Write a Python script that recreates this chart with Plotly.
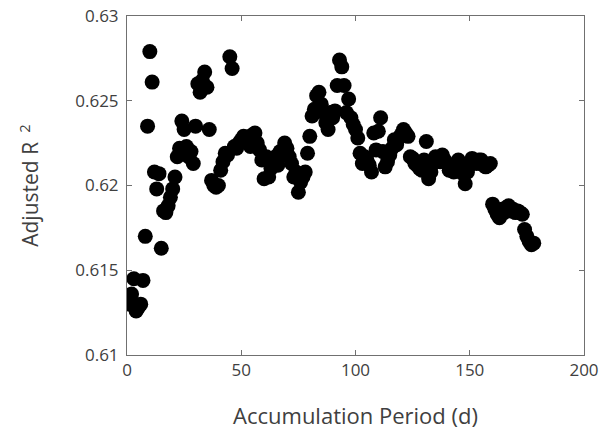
import plotly.graph_objects as go

days = list(range(1, 179))
adj_r2 = [
    0.6130, 0.6136, 0.6145, 0.6126, 0.6128, 0.6130, 0.6144, 0.6170, 0.6235, 0.6279,
    0.6261, 0.6208, 0.6198, 0.6207, 0.6163, 0.6185, 0.6184, 0.6188, 0.6193, 0.6198,
    0.6205, 0.6217, 0.6222, 0.6238, 0.6233, 0.6223, 0.6217, 0.6220, 0.6213, 0.6235,
    0.6260, 0.6255, 0.6262, 0.6267, 0.6258, 0.6233, 0.6203, 0.6200, 0.6199, 0.6200,
    0.6209, 0.6214, 0.6219, 0.6218, 0.6276, 0.6269, 0.6223, 0.6222, 0.6225, 0.6227,
    0.6229, 0.6226, 0.6228, 0.6223, 0.6230, 0.6231, 0.6225, 0.6221, 0.6215, 0.6204,
    0.6217, 0.6205, 0.6210, 0.6213, 0.6217, 0.6212, 0.6220, 0.6218, 0.6225, 0.6222,
    0.6217, 0.6213, 0.6205, 0.6208, 0.6196, 0.6202, 0.6205, 0.6208, 0.6219, 0.6229,
    0.6241, 0.6245, 0.6253, 0.6255, 0.6248, 0.6243, 0.6237, 0.6233, 0.6243, 0.6240,
    0.6244, 0.6259, 0.6274, 0.6270, 0.6259, 0.6243, 0.6251, 0.6240, 0.6236, 0.6233,
    0.6228, 0.6219, 0.6213, 0.6217, 0.6215, 0.6212, 0.6208, 0.6231, 0.6221, 0.6232,
    0.6240, 0.6220, 0.6211, 0.6214, 0.6218, 0.6222, 0.6227, 0.6224, 0.6228, 0.6230,
    0.6233, 0.6231, 0.6229, 0.6217, 0.6216, 0.6213, 0.6212, 0.6210, 0.6209, 0.6215,
    0.6226, 0.6204, 0.6208, 0.6213, 0.6217, 0.6215, 0.6214, 0.6218, 0.6215, 0.6213,
    0.6209, 0.6212, 0.6208, 0.6211, 0.6215, 0.6212, 0.6207, 0.6201, 0.6208, 0.6212,
    0.6216, 0.6214, 0.6213, 0.6215, 0.6215, 0.6212, 0.6211, 0.6212, 0.6213, 0.6189,
    0.6186, 0.6183, 0.6181, 0.6186, 0.6184, 0.6187, 0.6188, 0.6185, 0.6186, 0.6184,
    0.6185, 0.6184, 0.6183, 0.6174, 0.6170, 0.6167, 0.6165, 0.6166,
]

x_ticks = [0, 50, 100, 150, 200]
y_ticks = [0.61, 0.615, 0.62, 0.625, 0.63]
y_tick_labels = ["0.61", "0.615", "0.62", "0.625", "0.63"]

FONT = "Open Sans"
AXIS_COLOR = "#707070"
TEXT_COLOR = "#404040"

fig = go.Figure(
    go.Scatter(
        x=days, y=adj_r2, mode="markers",
        marker=dict(size=15, color="black", line=dict(width=0)),
    )
)

axis_common = dict(
    showline=True, linecolor=AXIS_COLOR, linewidth=1, mirror="ticks",
    ticks="inside", ticklen=5, tickcolor=AXIS_COLOR, tickwidth=1,
    showgrid=False, zeroline=False, automargin=False,
    tickfont=dict(family=FONT, size=17, color=TEXT_COLOR),
)

fig.update_xaxes(
    range=[0, 200], tickvals=x_ticks, ticktext=[str(v) for v in x_ticks],
    title=dict(text="Accumulation Period (d)", font=dict(family=FONT, size=22, color=TEXT_COLOR), standoff=28),
    **axis_common,
)
fig.update_yaxes(
    range=[0.61, 0.63], tickvals=y_ticks, ticktext=y_tick_labels,
    ticklabelstandoff=4,
    title=dict(text="Adjusted R <sup> 2</sup>", font=dict(family=FONT, size=21, color=TEXT_COLOR), standoff=30),
    **axis_common,
)

fig.update_layout(
    width=602, height=432,
    margin=dict(l=127, r=18, t=16, b=77, autoexpand=False),
    paper_bgcolor="white", plot_bgcolor="white",
    showlegend=False,
)

fig.write_html("out.html")
